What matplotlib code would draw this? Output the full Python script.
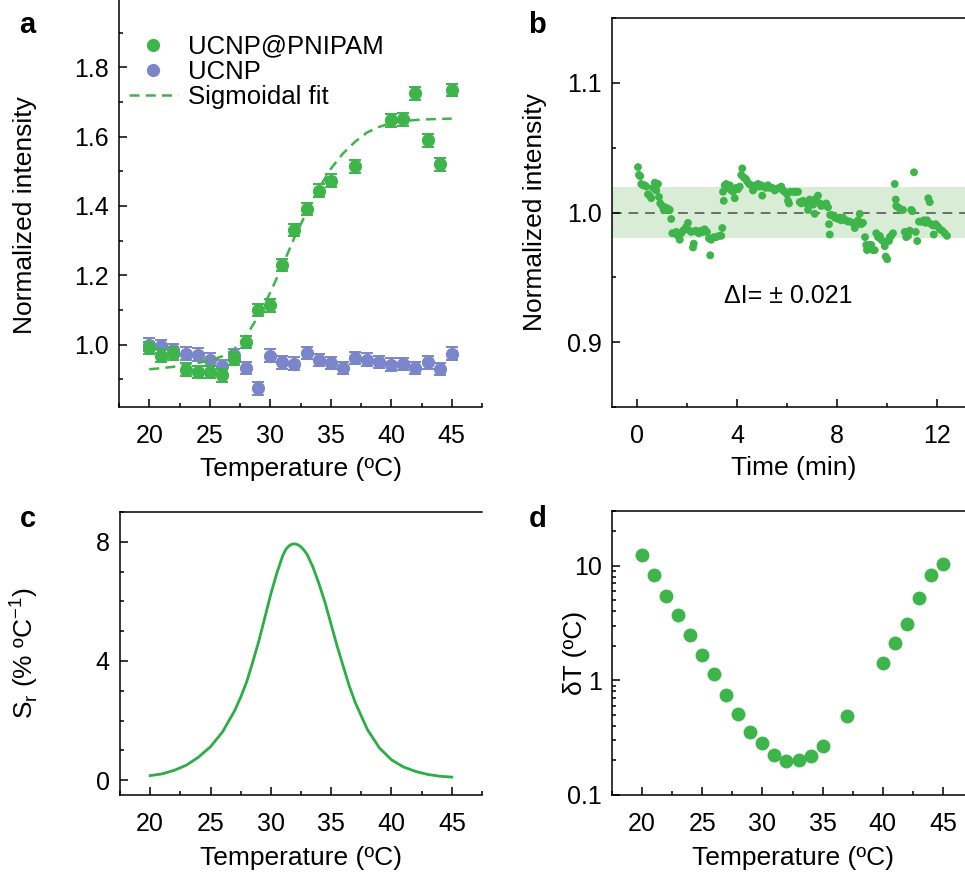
import matplotlib
matplotlib.use("Agg")
import matplotlib.pyplot as plt
from matplotlib.ticker import MultipleLocator, LogLocator, FixedLocator, NullFormatter

plt.rcParams["font.family"] = ["Liberation Sans", "DejaVu Sans"]
plt.rcParams["mathtext.fontset"] = "custom"
plt.rcParams["mathtext.rm"] = "Liberation Sans"

# ---- panel a: normalized intensity vs temperature
temp_all = list(range(20, 46))
temp_gel = [20, 21, 22, 23, 24, 25, 26, 27, 28, 29, 30, 31, 32, 33, 34, 35, 37,
            40, 41, 42, 43, 44, 45]
int_gel = [0.990, 0.968, 0.974, 0.928, 0.921, 0.921, 0.911, 0.959, 1.008, 1.100,
           1.113, 1.230, 1.331, 1.391, 1.444, 1.473, 1.514, 1.647, 1.650, 1.725,
           1.589, 1.520, 1.734]
int_ucnp = [1.000, 0.995, 0.985, 0.974, 0.971, 0.957, 0.937, 0.970, 0.932, 0.874,
            0.968, 0.949, 0.945, 0.976, 0.955, 0.947, 0.932, 0.961, 0.957, 0.950,
            0.942, 0.944, 0.932, 0.949, 0.930, 0.974]
err_a = 0.018
fit_temp = list(range(20, 46))
fit_int = [0.929, 0.932, 0.936, 0.942, 0.947, 0.954, 0.966, 0.986, 1.024, 1.082,
           1.150, 1.227, 1.309, 1.382, 1.449, 1.507, 1.551, 1.585, 1.612, 1.628,
           1.640, 1.645, 1.648, 1.650, 1.651, 1.652]

# ---- panel b: intensity stability over time
time_min = [0.04, 0.08, 0.13, 0.17, 0.24, 0.31, 0.37, 0.44, 0.51, 0.57,
            0.64, 0.71, 0.77, 0.84, 0.77, 0.88, 0.93, 1.01, 1.07, 1.12,
            1.17, 1.24, 1.31, 1.37, 1.41, 1.51, 1.57, 1.64, 1.71, 1.77,
            1.84, 1.91, 1.97, 2.04, 2.11, 2.17, 2.24, 2.27, 2.35, 2.40,
            2.48, 2.57, 2.64, 2.71, 2.80, 2.88, 2.93, 2.97, 3.07, 3.17,
            3.28, 3.37, 3.41, 3.44, 3.47, 3.51, 3.57, 3.64, 3.71, 3.77,
            3.84, 3.91, 3.97, 4.04, 4.11, 4.17, 4.21, 4.27, 4.35, 4.40,
            4.48, 4.57, 4.64, 4.71, 4.77, 4.84, 4.91, 4.97, 5.01, 5.07,
            5.15, 5.24, 5.31, 5.41, 5.51, 5.57, 5.68, 5.77, 5.84, 5.91,
            6.00, 6.04, 6.08, 6.13, 6.24, 6.31, 6.37, 6.44, 6.51, 6.57,
            6.64, 6.71, 6.77, 6.84, 6.91, 6.97, 7.04, 7.11, 7.17, 7.24,
            7.31, 7.37, 7.44, 7.51, 7.57, 7.64, 7.68, 7.71, 7.73, 7.81,
            7.91, 7.97, 8.04, 8.11, 8.17, 8.24, 8.35, 8.44, 8.51, 8.64,
            8.71, 8.77, 8.84, 8.91, 8.97, 9.04, 9.12, 9.17, 9.20, 9.28,
            9.37, 9.44, 9.51, 9.57, 9.64, 9.71, 9.77, 9.84, 9.91, 9.95,
            10.01, 10.08, 10.11, 10.17, 10.24, 10.31, 10.35, 10.37, 10.44, 10.51,
            10.57, 10.64, 10.71, 10.77, 10.84, 10.91, 10.97, 11.01, 11.08, 11.15,
            11.21, 11.28, 11.35, 11.41, 11.48, 11.55, 11.60, 11.65, 11.71, 11.77,
            11.84, 11.87, 11.95, 12.04, 12.11, 12.21, 12.31, 12.40]
int_time = [1.035, 1.029, 1.028, 1.022, 1.021, 1.021, 1.020, 1.014, 1.013, 1.011,
            1.019, 1.023, 1.022, 1.022, 1.017, 1.012, 1.007, 1.005, 1.002, 1.004,
            1.002, 1.003, 1.002, 0.995, 0.984, 0.984, 0.985, 0.982, 0.979, 0.984,
            0.986, 0.987, 0.989, 0.992, 0.986, 0.985, 0.973, 0.976, 0.986, 0.985,
            0.984, 0.986, 0.985, 0.987, 0.985, 0.980, 0.967, 0.979, 0.981, 0.981,
            0.982, 0.982, 0.988, 1.016, 1.009, 1.021, 1.022, 1.019, 1.021, 1.017,
            1.016, 1.011, 1.019, 1.018, 1.020, 1.029, 1.034, 1.027, 1.026, 1.024,
            1.022, 1.021, 1.017, 1.019, 1.021, 1.022, 1.020, 1.021, 1.013, 1.020,
            1.019, 1.021, 1.019, 1.019, 1.017, 1.018, 1.019, 1.020, 1.017, 1.016,
            1.014, 1.009, 1.007, 1.016, 1.016, 1.016, 1.016, 1.016, 1.008, 1.007,
            1.009, 1.008, 1.007, 1.002, 1.010, 1.008, 1.006, 0.999, 1.011, 1.013,
            1.007, 1.005, 1.006, 1.006, 1.007, 1.004, 0.991, 0.983, 0.998, 0.998,
            0.996, 0.996, 0.995, 0.996, 0.994, 0.996, 0.994, 0.993, 0.993, 0.992,
            0.988, 0.991, 0.994, 0.999, 0.991, 0.992, 0.981, 0.975, 0.971, 0.975,
            0.975, 0.971, 0.971, 0.984, 0.981, 0.982, 0.979, 0.978, 0.974, 0.966,
            0.964, 0.978, 0.981, 0.982, 0.984, 1.022, 1.010, 1.005, 1.004, 1.003,
            1.002, 1.002, 0.985, 0.981, 0.982, 0.986, 1.002, 1.001, 1.031, 0.985,
            0.978, 0.993, 0.993, 0.993, 0.994, 0.992, 0.994, 1.011, 1.008, 0.991,
            0.990, 0.983, 0.991, 0.989, 0.987, 0.986, 0.984, 0.982]
band_half = 0.02

# ---- panel c: relative sensitivity
temp_sr = [20, 21, 22, 23, 24, 25, 26, 27, 27.5, 28, 28.5, 29, 29.5, 30, 30.5,
           31, 31.25, 31.5, 31.75, 32, 32.25, 32.5, 32.75, 33, 33.5, 34, 34.5,
           35, 35.5, 36, 36.5, 37, 38, 39, 40, 41, 42, 43, 44, 45]
sr = [0.15, 0.21, 0.33, 0.50, 0.77, 1.12, 1.62, 2.33, 2.78, 3.30, 3.96, 4.66,
      5.45, 6.25, 6.95, 7.55, 7.75, 7.86, 7.92, 7.93, 7.90, 7.83, 7.72, 7.58,
      7.14, 6.58, 5.95, 5.22, 4.49, 3.82, 3.16, 2.60, 1.70, 1.08, 0.68, 0.44,
      0.29, 0.19, 0.13, 0.10]

# ---- panel d: temperature resolution
temp_res = temp_gel
delta_t = [12.4, 8.26, 5.42, 3.75, 2.47, 1.65, 1.13, 0.75, 0.51, 0.354, 0.284,
           0.224, 0.197, 0.200, 0.220, 0.269, 0.485, 1.42, 2.13, 3.10, 5.24,
           8.32, 10.4]

GREEN = "#3db54a"
GREEN_LINE = "#2aae45"
BLUE = "#7a86c9"
FS_TICK = 18
FS_LAB = 19

W, H = 965, 873
fig = plt.figure(figsize=(W / 100, H / 100), dpi=100)


def box(l, t, r, b):
    return [l / W, 1 - b / H, (r - l) / W, (b - t) / H]


def style(ax):
    ax.tick_params(which="both", direction="in", labelsize=FS_TICK, width=1.1)
    ax.tick_params(axis="x", which="both", pad=12)
    ax.tick_params(axis="y", which="both", pad=7.5)
    ax.tick_params(which="major", length=5.5)
    ax.tick_params(which="minor", length=3)
    for s in ax.spines.values():
        s.set_linewidth(1.1)
    ax.spines["right"].set_visible(False)


# a
ax = fig.add_axes(box(119, -2, 482, 407))
style(ax)
ax.spines["top"].set_visible(False)
ax.errorbar(temp_all, int_ucnp, yerr=err_a, fmt="none", ecolor=BLUE, elinewidth=1.4,
            capsize=4, capthick=1.4, zorder=2)
ax.plot(temp_all, int_ucnp, "o", color=BLUE, ms=9.5, mec="none", label="UCNP", zorder=3)
ax.errorbar(temp_gel, int_gel, yerr=err_a, fmt="none", ecolor=GREEN, elinewidth=1.4,
            capsize=4, capthick=1.4, zorder=4)
ax.plot(temp_gel, int_gel, "o", color=GREEN, ms=9.5, mec="none", label="UCNP@PNIPAM", zorder=5)
ax.plot(fit_temp, fit_int, "--", color=GREEN, lw=1.8, dashes=(4, 2.5), label="Sigmoidal fit", zorder=4)
ax.set_xlim(17.5, 47.5)
ax.set_ylim(0.82, 2.0)
ax.xaxis.set_major_locator(MultipleLocator(5))
ax.xaxis.set_minor_locator(MultipleLocator(2.5))
ax.yaxis.set_major_locator(FixedLocator([1.0, 1.2, 1.4, 1.6, 1.8]))
ax.yaxis.set_minor_locator(FixedLocator([0.9, 1.1, 1.3, 1.5, 1.7, 1.9]))
ax.yaxis.set_major_formatter(plt.FuncFormatter(lambda v, p: f"{v:.1f}"))
ax.set_xlabel("Temperature (ºC)", fontsize=FS_LAB)
ax.set_ylabel("Normalized intensity", fontsize=FS_LAB)
ax.yaxis.set_label_coords(-0.226, 0.47)
ax.xaxis.set_label_coords(0.5, -0.122)
h, l = ax.get_legend_handles_labels()
order = [1, 0, 2]
ax.legend([h[i] for i in order], [l[i] for i in order], loc="upper left",
          bbox_to_anchor=(-0.015, 0.948), frameon=False, fontsize=18.5, handlelength=1.9,
          handletextpad=0.4, labelspacing=0.05, borderaxespad=0.2)

# b
ax = fig.add_axes(box(612, 18, 974.5, 407))
style(ax)
ax.axhspan(1 - band_half, 1 + band_half, color="#d9ecd5", lw=0, zorder=0)
ax.axhline(1.0, color="#6d6d6d", lw=1.4, dashes=(5, 3.5), zorder=1)
ax.scatter(time_min, int_time, s=32, color=GREEN, edgecolors="none", zorder=3)
ax.set_xlim(-1, 13.5)
ax.set_ylim(0.85, 1.15)
ax.xaxis.set_major_locator(MultipleLocator(4))
ax.xaxis.set_minor_locator(MultipleLocator(2))
ax.yaxis.set_major_locator(MultipleLocator(0.1))
ax.yaxis.set_minor_locator(MultipleLocator(0.05))
ax.yaxis.set_major_formatter(plt.FuncFormatter(lambda v, p: f"{v:.1f}"))
ax.text(0.485, 0.285, "ΔI= ± 0.021", transform=ax.transAxes, fontsize=FS_TICK,
        ha="center", va="center")
ax.set_xlabel("Time (min)", fontsize=FS_LAB)
ax.set_ylabel("Normalized intensity", fontsize=FS_LAB)
ax.yaxis.set_label_coords(-0.179, 0.5)
ax.xaxis.set_label_coords(0.5, -0.125)

# c
ax = fig.add_axes(box(120, 512, 482, 795))
style(ax)
ax.plot(temp_sr, sr, color=GREEN_LINE, lw=2.0)
ax.set_xlim(17.5, 47.5)
ax.set_ylim(-0.5, 9)
ax.xaxis.set_major_locator(MultipleLocator(5))
ax.xaxis.set_minor_locator(MultipleLocator(2.5))
ax.yaxis.set_major_locator(MultipleLocator(4))
ax.yaxis.set_minor_locator(MultipleLocator(1))
ax.set_xlabel("Temperature (ºC)", fontsize=FS_LAB)
ax.set_ylabel("S$_\\mathregular{r}$ (% ºC$^\\mathregular{-1}$)", fontsize=FS_LAB)
ax.yaxis.set_label_coords(-0.221, 0.5)
ax.xaxis.set_label_coords(0.5, -0.18)

# d
ax = fig.add_axes(box(612, 511, 973, 795))
style(ax)
ax.plot(temp_res, delta_t, "o", color=GREEN, ms=10, mec="none")
ax.set_yscale("log")
ax.set_xlim(17.5, 47.5)
ax.set_ylim(0.1, 30)
ax.xaxis.set_major_locator(MultipleLocator(5))
ax.xaxis.set_minor_locator(MultipleLocator(2.5))
ax.yaxis.set_major_locator(FixedLocator([0.1, 1, 10]))
ax.yaxis.set_minor_locator(LogLocator(subs=range(2, 10)))
ax.yaxis.set_minor_formatter(NullFormatter())
ax.yaxis.set_major_formatter(plt.FuncFormatter(lambda v, p: f"{v:g}"))
ax.set_xlabel("Temperature (ºC)", fontsize=FS_LAB)
ax.set_ylabel("δT (ºC)", fontsize=FS_LAB)
ax.yaxis.set_label_coords(-0.07, 0.5)
ax.xaxis.set_label_coords(0.5, -0.18)

for lab, x, y in [("a", 27, 33), ("b", 537, 33), ("c", 28, 527), ("d", 538, 527)]:
    fig.text(x / W, 1 - y / H, lab, fontsize=21, fontweight="bold", ha="center",
             va="baseline")

fig.savefig("out.png", dpi=100, facecolor="white")
